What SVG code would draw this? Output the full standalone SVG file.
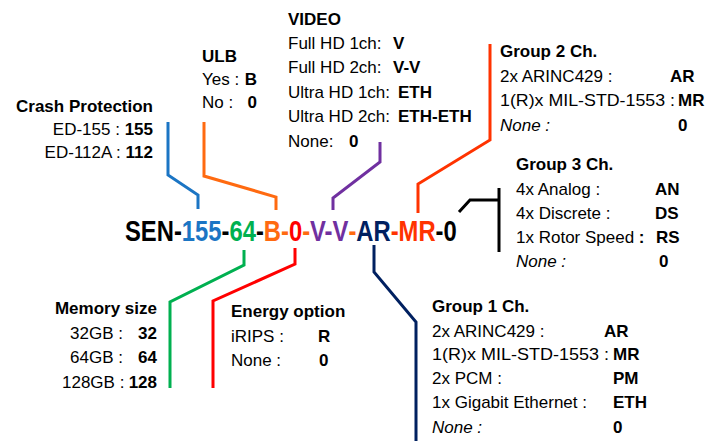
<svg xmlns="http://www.w3.org/2000/svg" width="716" height="441" viewBox="0 0 716 441">
<style>
.t{font-family:"Liberation Sans",Arial,sans-serif;font-size:17px;fill:#000}
.b{font-weight:bold}
.i{font-style:italic}
.e{text-anchor:end}
.ln{fill:none;stroke-width:3;stroke-linejoin:miter;stroke-linecap:butt}
.code{font-family:"Liberation Sans",Arial,sans-serif;font-size:30px;font-weight:bold}
</style>
<rect width="716" height="441" fill="#fff"/>
<g id="connectors">
<path class="ln" stroke="#1B75C4" d="M168,122 L168,175 L198,195 L198,209"/>
<path class="ln" stroke="#FF6A10" d="M204,122 L204,176 L276,197 L276,210"/>
<path class="ln" stroke="#7030A0" d="M380,142 L380,162 L333,198 L333,210"/>
<path class="ln" stroke="#FF3300" d="M490,44 L490,140 L418,184 L418,213"/>
<path class="ln" stroke="#000" d="M459,212 L470,200 L499,200"/>
<path class="ln" stroke="#000" d="M499,188 L499,252"/>
<path class="ln" stroke="#00B050" d="M244,250 L244,265 L170,302 L170,388"/>
<path class="ln" stroke="#FF0000" d="M295,248 L295,264 L213,301 L213,388"/>
<path class="ln" stroke="#002060" d="M374,245 L374,272 L416,322 L416,441"/>
</g>
<g id="code" transform="translate(125,241) scale(0.793,1)">
<text class="code" x="0" y="0"><tspan fill="#000">SEN-</tspan><tspan fill="#1B75C4">155</tspan><tspan fill="#000">-</tspan><tspan fill="#00B050">64</tspan><tspan fill="#000">-</tspan><tspan fill="#FF6A10">B-</tspan><tspan fill="#FF0000">0</tspan><tspan fill="#FF6A10">-</tspan><tspan fill="#7030A0">V-V</tspan><tspan fill="#FF6A10">-</tspan><tspan fill="#002060">AR</tspan><tspan fill="#FF3300">-MR</tspan><tspan fill="#000">-0</tspan></text>
</g>
<g id="crash">
<text class="t b e" x="153" y="112">Crash Protection</text>
<text class="t e" x="153" y="135">ED-155 : <tspan class="b">155</tspan></text>
<text class="t e" x="153" y="158">ED-112A : <tspan class="b">112</tspan></text>
</g>
<g id="ulb">
<text class="t b" x="202" y="62">ULB</text>
<text class="t" x="202" y="85">Yes :</text><text class="t b e" x="257" y="85">B</text>
<text class="t" x="202" y="108">No :</text><text class="t b e" x="257" y="108">0</text>
</g>
<g id="video">
<text class="t b" x="288" y="25">VIDEO</text>
<text class="t" x="288" y="49">Full HD 1ch:</text><text class="t b" x="393" y="49">V</text>
<text class="t" x="288" y="73">Full HD 2ch:</text><text class="t b" x="393" y="73">V-V</text>
<text class="t" x="288" y="98">Ultra HD 1ch:</text><text class="t b" x="398" y="98">ETH</text>
<text class="t" x="288" y="122">Ultra HD 2ch:</text><text class="t b" x="398" y="122">ETH-ETH</text>
<text class="t" x="288" y="147">None:</text><text class="t b" x="349" y="147">0</text>
</g>
<g id="group2">
<text class="t b" x="500" y="57">Group 2 Ch.</text>
<text class="t" x="500" y="82">2x ARINC429 :</text><text class="t b" x="670" y="82">AR</text>
<text class="t" x="500" y="106" textLength="175" lengthAdjust="spacingAndGlyphs">1(R)x MIL-STD-1553 :</text><text class="t b" x="678" y="106">MR</text>
<text class="t i" x="500" y="131">None :</text><text class="t b" x="678" y="131">0</text>
</g>
<g id="group3">
<text class="t b" x="516" y="170">Group 3 Ch.</text>
<text class="t" x="516" y="195">4x Analog :</text><text class="t b" x="655" y="195">AN</text>
<text class="t" x="516" y="219">4x Discrete :</text><text class="t b" x="655" y="219">DS</text>
<text class="t" x="516" y="243">1x Rotor Speed <tspan class="b">:</tspan></text><text class="t b" x="656" y="243">RS</text>
<text class="t i" x="516" y="267">None :</text><text class="t b" x="659" y="267">0</text>
</g>
<g id="memory">
<text class="t b e" x="157" y="314">Memory size</text>
<text class="t" x="70" y="339">32GB :</text><text class="t b e" x="157" y="339">32</text>
<text class="t" x="70" y="363">64GB :</text><text class="t b e" x="157" y="363">64</text>
<text class="t" x="62" y="388">128GB :</text><text class="t b e" x="157" y="388">128</text>
</g>
<g id="energy">
<text class="t b" x="231" y="317">Energy option</text>
<text class="t" x="231" y="342">iRIPS :</text><text class="t b" x="318" y="342">R</text>
<text class="t" x="231" y="366">None :</text><text class="t b" x="319" y="366">0</text>
</g>
<g id="group1">
<text class="t b" x="432" y="312">Group 1 Ch.</text>
<text class="t" x="432" y="337">2x ARINC429 :</text><text class="t b" x="604" y="337">AR</text>
<text class="t" x="432" y="360" textLength="177" lengthAdjust="spacingAndGlyphs">1(R)x MIL-STD-1553 :</text><text class="t b" x="613" y="360">MR</text>
<text class="t" x="432" y="384">2x PCM :</text><text class="t b" x="613" y="384">PM</text>
<text class="t" x="432" y="408">1x Gigabit Ethernet :</text><text class="t b" x="613" y="408">ETH</text>
<text class="t i" x="432" y="433">None :</text><text class="t b" x="613" y="433">0</text>
</g>
</svg>
